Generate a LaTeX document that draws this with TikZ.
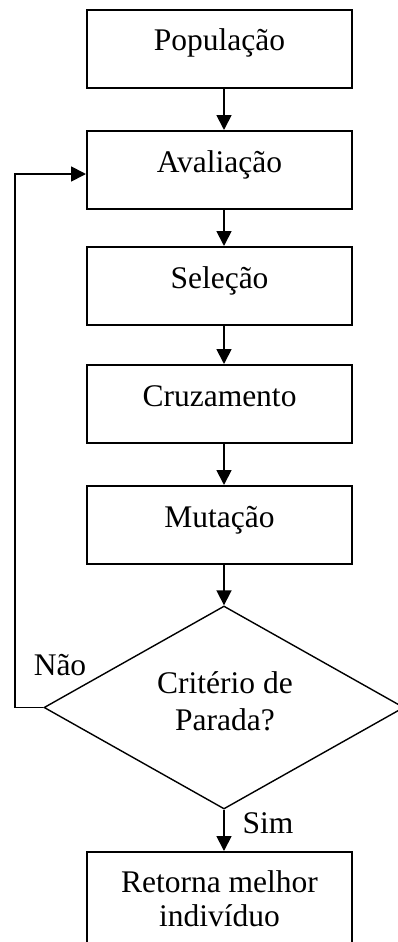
\documentclass[tikz,border=0pt]{standalone}
\usepackage{fontspec}
\setmainfont{Liberation Serif}
\usetikzlibrary{shapes.geometric,arrows.meta}
\begin{document}
\begin{tikzpicture}[x=1pt,y=-1pt,
  box/.style={draw,line width=2pt,rectangle,minimum width=265pt,inner sep=0pt,
    text height=41pt,text depth=37pt,font=\fontsize{31.5}{34}\selectfont,anchor=north},
  dec/.style={draw,line width=1.4pt,diamond,minimum width=360pt,minimum height=203pt,inner sep=0pt},
  txt/.style={inner sep=0pt,align=center,font=\fontsize{31.5}{34}\selectfont},
  conn/.style={line width=1.8pt,-{Triangle[length=15pt,width=15pt]}}
]
\useasboundingbox (0,0) rectangle (398,942);
\clip (0,0) rectangle (398,942);
\node[box] (pop) at (219.5,9) {População};
\node[box] (ava) at (219.5,130) {Avaliação};
\node[box] (sel) at (219.5,246) {Seleção};
\node[box] (cru) at (219.5,364) {Cruzamento};
\node[box] (mut) at (219.5,485) {Mutação};
\node[dec] (dec) at (224,707.5) {};
\node[txt,anchor=north,font=\fontsize{31.5}{37.7}\selectfont] (dtx) at (225,671) {Critério de\\Parada?};
\node[draw,line width=2pt,rectangle,minimum width=265pt,minimum height=94pt,txt] (ret) at (219.5,899) {Retorna melhor\\indivíduo};
\node[txt,anchor=base] (nao) at (60,675) {Não};
\node[txt,anchor=base] (sim) at (268,833) {Sim};
\coordinate (lp) at (15,174);
\draw[conn] (pop.south -| dec.north) -- (ava.north -| dec.north);
\draw[conn] (ava.south -| dec.north) -- (sel.north -| dec.north);
\draw[conn] (sel.south -| dec.north) -- (cru.north -| dec.north);
\draw[conn] (cru.south -| dec.north) -- (mut.north -| dec.north);
\draw[conn] (mut.south -| dec.north) -- (dec.north);
\draw[conn] (dec.south) -- (ret.north -| dec.south);
\draw[conn] (dec.west) -- (dec.west -| lp) -- (lp) -- (lp -| ava.west);
\end{tikzpicture}
\end{document}
